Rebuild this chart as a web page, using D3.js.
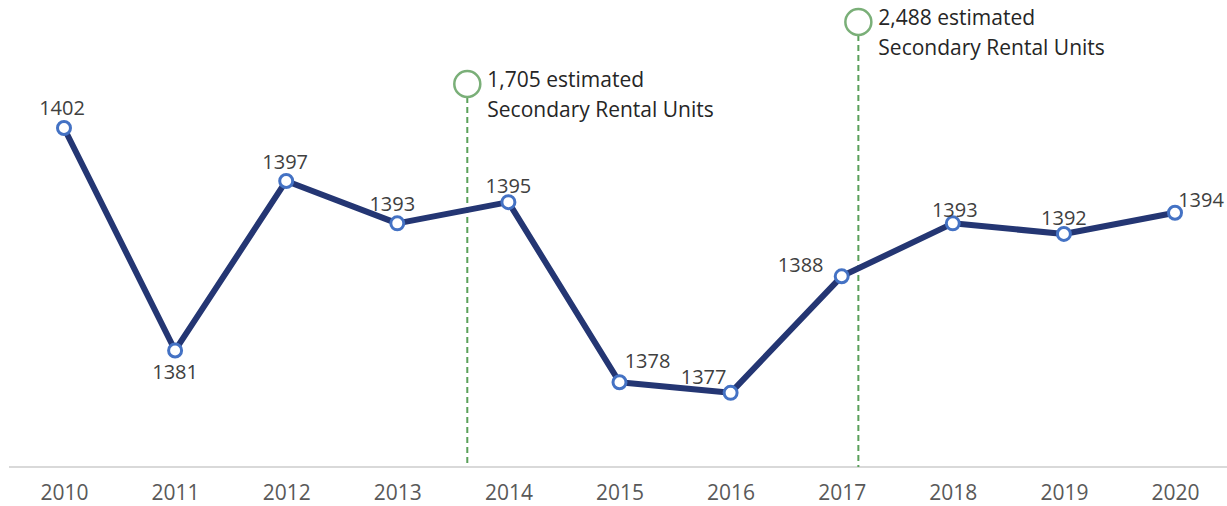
<!DOCTYPE html>
<html>
<head>
<meta charset="utf-8">
<script src="https://cdn.jsdelivr.net/npm/d3@7"></script>
<style>
  body { margin: 0; background: #fff; }
  text { font-family: "Open Sans", "Noto Sans", sans-serif; }
</style>
</head>
<body>
<div id="chart"></div>
<script>
// data
var years = [2010, 2011, 2012, 2013, 2014, 2015, 2016, 2017, 2018, 2019, 2020];
var values = [1402, 1381, 1397, 1393, 1395, 1378, 1377, 1388, 1393, 1392, 1394];
var noteYears = [2013.63, 2017.15];
var noteLines = [
  ["1,705 estimated", "Secondary Rental Units"],
  ["2,488 estimated", "Secondary Rental Units"]
];

var svgWidth = 1227;
var svgHeight = 506;
var baseY = 467;

var svg = d3.select("#chart")
  .append("svg")
  .attr("width", svgWidth)
  .attr("height", svgHeight);

var x = d3.scaleLinear()
  .domain([2010, 2020])
  .range([64, 1175]);

var y = d3.scaleLinear()
  .domain([1370, 1402])
  .range([baseY, 128]);

var data = years.map(function(yr, i) { return { year: yr, value: values[i] }; });

// baseline
svg.append("line")
  .attr("x1", 9).attr("x2", svgWidth)
  .attr("y1", baseY).attr("y2", baseY)
  .attr("stroke", "#d9d9d9")
  .attr("stroke-width", 2);

// year labels
var xAxis = d3.axisBottom(x)
  .tickValues(years)
  .tickFormat(d3.format("d"))
  .tickSize(0)
  .tickPadding(18);

var axisG = svg.append("g")
  .attr("transform", "translate(0," + baseY + ")")
  .call(xAxis);
axisG.select(".domain").remove();
axisG.selectAll("text")
  .attr("font-size", "21px")
  .attr("font-family", "'Open Sans', 'Noto Sans', sans-serif")
  .attr("fill", "#595959");

// annotations
noteYears.forEach(function(ny, i) {
  var cx = x(ny);
  var cy = i === 0 ? 84 : 22;
  svg.append("line")
    .attr("x1", cx).attr("x2", cx)
    .attr("y1", cy + 13).attr("y2", baseY)
    .attr("stroke", "#5aa05a")
    .attr("stroke-width", 2)
    .attr("stroke-dasharray", "6,4");
  svg.append("circle")
    .attr("cx", cx).attr("cy", cy)
    .attr("r", 13)
    .attr("fill", "none")
    .attr("stroke", "#7aaf78")
    .attr("stroke-width", 2.5);
  var t = svg.append("text")
    .attr("x", cx + 20)
    .attr("y", cy - 4)
    .attr("font-size", "21px")
    .attr("fill", "#262626");
  noteLines[i].forEach(function(s, j) {
    t.append("tspan")
      .attr("x", cx + 20)
      .attr("dy", j === 0 ? "0.35em" : "1.4em")
      .text(s);
  });
});

// line
var line = d3.line()
  .x(function(d) { return x(d.year); })
  .y(function(d) { return y(d.value); });

svg.append("path")
  .datum(data)
  .attr("d", line)
  .attr("fill", "none")
  .attr("stroke", "#243673")
  .attr("stroke-width", 6)
  .attr("stroke-linejoin", "round");

svg.selectAll("circle.pt")
  .data(data)
  .enter()
  .append("circle")
  .attr("class", "pt")
  .attr("cx", function(d) { return x(d.year); })
  .attr("cy", function(d) { return y(d.value); })
  .attr("r", 6.5)
  .attr("fill", "#fff")
  .attr("stroke", "#4472c4")
  .attr("stroke-width", 3);

// label placement per point: [dx, dy]
var labelOffset = {
  2010: [-2, -20], 2011: [0, 22], 2012: [-1, -19], 2013: [-5, -19],
  2014: [0, -16], 2015: [28, -21], 2016: [-27, -16], 2017: [-41, -11],
  2018: [2, -13], 2019: [0, -16], 2020: [26, -13]
};

svg.selectAll("text.lbl")
  .data(data)
  .enter()
  .append("text")
  .attr("class", "lbl")
  .attr("x", function(d) { return x(d.year) + labelOffset[d.year][0]; })
  .attr("y", function(d) { return y(d.value) + labelOffset[d.year][1]; })
  .attr("dy", "0.35em")
  .attr("text-anchor", "middle")
  .attr("font-size", "20px")
  .attr("fill", "#404040")
  .text(function(d) { return d.value; });
</script>
</body>
</html>
